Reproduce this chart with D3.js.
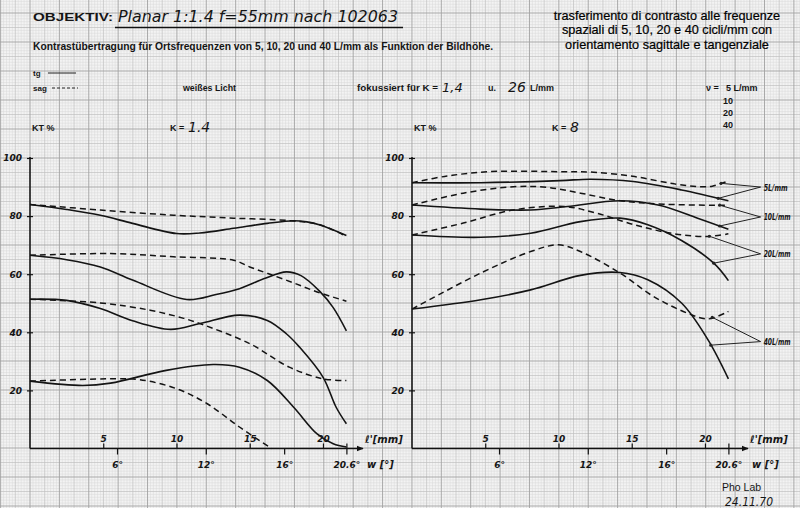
<!DOCTYPE html>
<html>
<head>
<meta charset="utf-8">
<script src="https://cdn.jsdelivr.net/npm/d3@7"></script>
<style>
  body { margin: 0; background: #f4f4f4; }
  svg { display: block; }
</style>
</head>
<body>
<div id="chart"></div>
<script>
// x values are image height l' in mm, y values are contrast transfer KT in %
// K = 1.4
const k14Tg5 = [[0,84],[2.5,82.3],[4.8,80.3],[7,77.5],[10,74],[11.6,74.2],[13.9,75.8],[16.2,77.5],[18,78.4],[18.9,78],[19.8,76.9],[21.6,73.3]];
const k14Sag5 = [[0,84],[4.8,82.1],[9.8,80.3],[13.9,79.3],[17.8,78.4],[19.8,77],[21.6,73]];
const k14Tg10 = [[0,66.5],[2.5,65],[4.8,62.5],[7,58],[10.7,51.3],[12.7,53],[14.3,55],[16,58.5],[17.5,60.8],[18.5,59.5],[19.8,54],[20.7,48.5],[21.6,40.5]];
const k14Sag10 = [[0,66.5],[5.5,67.1],[9.8,66],[13.9,64.8],[15,62.5],[16.2,60.3],[18,57],[19.6,53.9],[21.6,50.7]];
const k14Tg20 = [[0,51.4],[2.5,51],[4.8,48.2],[7,44],[9.6,41],[11.6,43],[14.3,45.9],[16.2,44.1],[17.5,39.5],[18.4,34.9],[20,24.6],[20.9,14.2],[21.6,8.5]];
const k14Sag20 = [[0,51.4],[4.8,50.1],[8.2,47.6],[10.5,44.8],[11.6,43],[15,36.1],[17.7,28],[20,24],[21.6,23.4]];
const k14Tg40 = [[0,23.2],[3.6,21.7],[5.5,22.5],[9.3,26.9],[12.5,28.9],[14.3,28],[16.2,23.4],[18,14.2],[19.6,5],[20.7,1.6],[21.6,0.5]];
const k14Sag40 = [[0,23.2],[5.9,24],[7.5,23.7],[10,20.6],[12.1,15.4],[14.3,7.4],[16.5,0]];

// K = 8
const k8Tg5 = [[0,91.5],[4.7,91.5],[10.1,92.2],[12.2,92.7],[15.1,91.9],[18.4,89],[21.6,85.3]];
const k8Sag5 = [[0,91.5],[2.4,93.8],[5.3,95.3],[10.1,95.3],[12.4,95.1],[15.2,93.6],[17.9,91.1],[19.7,90.1],[20.5,90.3],[21.6,92.1]];
const k8Tg10 = [[0,83.8],[4.7,82.4],[8.1,82.1],[10.6,83.3],[14.2,85.3],[16.8,83.8],[19.5,79.3],[21.6,75.5]];
const k8Sag10 = [[0,83.8],[3.5,87.9],[6.9,90.1],[9.2,89.9],[11.5,87.9],[14.2,85.3],[17.2,84.1],[21.6,83.7]];
const k8Tg20 = [[0,73.5],[4.7,72.7],[8.1,74.1],[11.5,78.1],[14.2,79.3],[16.1,77],[18.4,71.6],[20.6,63.8],[21.6,57.8]];
const k8Sag20 = [[0,73.5],[3.5,77.6],[6.9,82.1],[10.4,83.3],[12.6,81],[15.2,77],[17.9,73.9],[20.2,73],[21.6,73.9]];
const k8Tg40 = [[0,48],[4.7,51.2],[8.1,54.6],[11.5,59.6],[14.2,60.6],[16.1,58.1],[18.4,50.1],[20.2,37.5],[21.6,24]];
const k8Sag40 = [[0,48],[4.7,60.4],[8.1,67.8],[10,70.1],[11.5,67.8],[14.2,60.4],[16.5,52.3],[18.8,46.6],[20.2,44.6],[21.6,47.2]];

// axis ticks
const yTicks = [20, 40, 60, 80, 100];
const yTickLabels = ['20', '40', '60', '80', '100'];
const lTicks = [5, 10, 15, 20];
const wTickPos = [5.94, 12.0, 17.35, 21.6];   // where the angle ticks sit on the mm scale
const wTickLabels = ['6°', '12°', '16°', '20.6°'];

// leader labels of the K = 8 panel
const k8LabelText = ['5L/mm', '10L/mm', '20L/mm', '40L/mm'];
const k8LabelAt = [90, 79.7, 67, 36.8];
const k8AnchorTg = [20.9, 21.0, 20.6, 20.4];
const k8AnchorSag = [21.1, 21.0, 20.3, 20.5];

const W = 800, H = 508;
const HAND = "'DejaVu Sans', sans-serif";
const PRINT = "'Liberation Sans', Arial, sans-serif";

const svg = d3.select('#chart').append('svg')
  .attr('width', W)
  .attr('height', H);

svg.append('defs').append('marker')
  .attr('id', 'arrow')
  .attr('viewBox', '0 0 10 10')
  .attr('refX', 9).attr('refY', 5)
  .attr('markerWidth', 7).attr('markerHeight', 7)
  .attr('markerUnits', 'userSpaceOnUse')
  .attr('orient', 'auto')
  .append('path')
  .attr('d', 'M0,1 L10,5 L0,9 Z')
  .attr('fill', '#111');

// graph paper
svg.append('rect').attr('width', W).attr('height', H).attr('fill', '#f3f3f3');
const cmX = 29.38, cmY = 29.0, gx0 = 30, gy0 = 448;
const gridMinor = d3.path(), gridMid = d3.path(), gridMajor = d3.path();
d3.range(-20, 300).forEach(i => {
  const x = gx0 + i * cmX / 10;
  if (x < 0 || x > W) return;
  const p = i % 10 === 0 ? gridMajor : (i % 5 === 0 ? gridMid : gridMinor);
  p.moveTo(x, 0); p.lineTo(x, H);
});
d3.range(-30, 200).forEach(i => {
  const y = gy0 - i * cmY / 10;
  if (y < 0 || y > H) return;
  const p = i % 10 === 0 ? gridMajor : (i % 5 === 0 ? gridMid : gridMinor);
  p.moveTo(0, y); p.lineTo(W, y);
});
svg.append('path').attr('d', gridMinor.toString()).attr('stroke', '#d8d8d8').attr('stroke-width', 0.5).attr('fill', 'none');
svg.append('path').attr('d', gridMid.toString()).attr('stroke', '#c0c0c0').attr('stroke-width', 0.7).attr('fill', 'none');
svg.append('path').attr('d', gridMajor.toString()).attr('stroke', '#a2a2a2').attr('stroke-width', 0.9).attr('fill', 'none');

function txt(x, y, s, o = {}) {
  const t = svg.append('text')
    .attr('x', x).attr('y', y)
    .attr('font-family', o.hand ? HAND : PRINT)
    .attr('font-size', o.size || 9)
    .attr('font-weight', o.bold ? 'bold' : 'normal')
    .attr('font-style', o.hand ? 'italic' : 'normal')
    .attr('fill', '#151515')
    .attr('text-anchor', o.anchor || 'start')
    .text(s);
  if (o.len) t.attr('textLength', o.len).attr('lengthAdjust', 'spacingAndGlyphs');
  if (o.spacing) t.attr('letter-spacing', o.spacing);
  return t;
}

// header
txt(33, 21, 'OBJEKTIV:', { bold: true, size: 11, len: 80 });
txt(118, 22, 'Planar 1:1.4 f=55mm  nach 102063', { hand: true, size: 16, len: 280 });
svg.append('line').attr('x1', 115).attr('x2', 403).attr('y1', 27.5).attr('y2', 27.5)
  .attr('stroke', '#111').attr('stroke-width', 1.4);
txt(33, 50, 'Kontrastübertragung für Ortsfrequenzen von 5, 10, 20 und 40 L/mm als Funktion der Bildhöhe.', { bold: true, size: 10, len: 460 });
txt(33, 76, 'tg', { bold: true, size: 8 });
svg.append('line').attr('x1', 48).attr('x2', 76).attr('y1', 73).attr('y2', 73).attr('stroke', '#222').attr('stroke-width', 1);
txt(33, 91, 'sag', { bold: true, size: 8 });
svg.append('line').attr('x1', 52).attr('x2', 78).attr('y1', 88).attr('y2', 88).attr('stroke', '#222').attr('stroke-width', 1).attr('stroke-dasharray', '3,2');
txt(183, 91, 'weißes Licht', { bold: true, size: 8.5, len: 53 });
txt(357, 91, 'fokussiert für K =', { bold: true, size: 8.5, len: 81 });
txt(442, 92, '1,4', { hand: true, size: 13 });
txt(488, 91, 'u.', { bold: true, size: 9 });
txt(508, 92, '26', { hand: true, size: 14 });
txt(530, 91, 'L/mm', { bold: true, size: 9 });
txt(706, 91, 'ν =', { bold: true, size: 9 });
txt(726, 91, '5 L/mm', { bold: true, size: 9 });
txt(723, 104, '10', { bold: true, size: 9 });
txt(723, 116, '20', { bold: true, size: 9 });
txt(723, 128, '40', { bold: true, size: 9 });

['trasferimento di contrasto alle frequenze',
 'spaziali di 5, 10, 20 e 40 cicli/mm con',
 'orientamento sagittale e tangenziale'].forEach((s, i) => {
  txt(667, 20 + i * 14.3, s, { size: 12.7, anchor: 'middle' }).attr('fill', '#000').attr('stroke', '#000').attr('stroke-width', 0.2);
});

txt(722, 491, 'Pho Lab', { size: 10.5 });
txt(725, 506, '24.11.70', { hand: true, size: 11.5, len: 48 });

const y = d3.scaleLinear().domain([0, 100]).range([448.5, 158]);
const lineGen = x => d3.line()
  .x(d => x(d[0]))
  .y(d => y(d[1]))
  .curve(d3.curveCatmullRom.alpha(0.5));

function valueAt(series, xv) {
  const i = d3.bisector(d => d[0]).left(series, xv);
  if (i <= 0) return series[0][1];
  if (i >= series.length) return series[series.length - 1][1];
  const a = series[i - 1], b = series[i];
  return a[1] + (b[1] - a[1]) * (xv - a[0]) / (b[0] - a[0]);
}

function drawPanel(x0, kLabel, tg, sag, arrowEnd) {
  const x = d3.scaleLinear().domain([0, 21.6]).range([x0, x0 + 316.4]);
  const g = svg.append('g');
  const line = lineGen(x);

  txt(x0 + 2, 131, 'KT %', { bold: true, size: 9 });
  txt(x0 + 140, 131, 'K =', { bold: true, size: 9 });
  txt(x0 + 158, 132, kLabel, { hand: true, size: 14 });

  // y axis
  const ya = g.append('g')
    .attr('transform', `translate(${x0},0)`)
    .call(d3.axisLeft(y).tickValues(yTicks).tickFormat((d, i) => yTickLabels[i]).tickSize(3).tickPadding(5));
  ya.select('.domain').remove();
  ya.selectAll('.tick line').attr('x1', 3).attr('stroke', '#111').attr('stroke-width', 1.2);
  ya.selectAll('.tick text').attr('font-family', HAND).attr('font-style', 'italic').attr('font-size', 9).attr('font-weight', 'bold').attr('fill', '#151515');
  g.append('line').attr('x1', x0).attr('x2', x0).attr('y1', y(0)).attr('y2', y(100) - 1)
    .attr('stroke', '#111').attr('stroke-width', 1.5);

  // l' axis (ticks above)
  const la = g.append('g')
    .attr('transform', `translate(0,${y(0)})`)
    .call(d3.axisTop(x).tickValues(lTicks).tickSize(5).tickPadding(2));
  la.select('.domain').remove();
  la.selectAll('.tick line').attr('stroke', '#111').attr('stroke-width', 1.2);
  la.selectAll('.tick text').attr('font-family', HAND).attr('font-style', 'italic').attr('font-size', 9).attr('font-weight', 'bold').attr('fill', '#151515');

  // w axis (ticks below)
  const wa = g.append('g')
    .attr('transform', `translate(0,${y(0)})`)
    .call(d3.axisBottom(x).tickValues(wTickPos).tickFormat((d, i) => wTickLabels[i]).tickSize(6).tickPadding(7));
  wa.select('.domain').remove();
  wa.selectAll('.tick line').attr('stroke', '#111').attr('stroke-width', 1.2)
    .attr('y1', (d, i) => i === wTickPos.length - 1 ? -5 : 0);
  wa.selectAll('.tick text').attr('font-family', HAND).attr('font-style', 'italic').attr('font-size', 9).attr('font-weight', 'bold').attr('fill', '#151515');

  g.append('line').attr('x1', x0).attr('x2', arrowEnd).attr('y1', y(0)).attr('y2', y(0))
    .attr('stroke', '#111').attr('stroke-width', 1.5).attr('marker-end', 'url(#arrow)');
  txt(arrowEnd + 2, y(0) - 6, "ℓ'[mm]", { hand: true, size: 10, bold: true });
  txt(arrowEnd + 4, y(0) + 19, 'w [°]', { hand: true, size: 10, bold: true });

  // curves
  g.selectAll('.sag').data(sag).enter().append('path')
    .attr('fill', 'none').attr('stroke', '#141414').attr('stroke-width', 1.5)
    .attr('stroke-dasharray', '6,4')
    .attr('d', line);
  g.selectAll('.tg').data(tg).enter().append('path')
    .attr('fill', 'none').attr('stroke', '#141414').attr('stroke-width', 1.6)
    .attr('d', line);
  return x;
}

drawPanel(30, '1.4', [k14Tg5, k14Tg10, k14Tg20, k14Tg40], [k14Sag5, k14Sag10, k14Sag20, k14Sag40], 363);
const tgK8 = [k8Tg5, k8Tg10, k8Tg20, k8Tg40];
const sagK8 = [k8Sag5, k8Sag10, k8Sag20, k8Sag40];
const xR = drawPanel(412, '8', tgK8, sagK8, 748);

// leader lines with frequency labels
const meetX = xR(23.8);
k8LabelText.forEach((s, i) => {
  const my = y(k8LabelAt[i]);
  [[k8AnchorTg[i], tgK8[i]], [k8AnchorSag[i], sagK8[i]]].forEach(([ax, series]) => {
    const ay = y(valueAt(series, ax));
    svg.append('line').attr('x1', xR(ax)).attr('y1', ay).attr('x2', meetX).attr('y2', my)
      .attr('stroke', '#222').attr('stroke-width', 1);
    svg.append('circle').attr('cx', xR(ax)).attr('cy', ay).attr('r', 1.6).attr('fill', '#222');
  });
  txt(meetX + 3, my + 3.5, s, { hand: true, size: 8, bold: true, len: s.length > 5 ? 27 : 24 });
});
</script>
</body>
</html>
